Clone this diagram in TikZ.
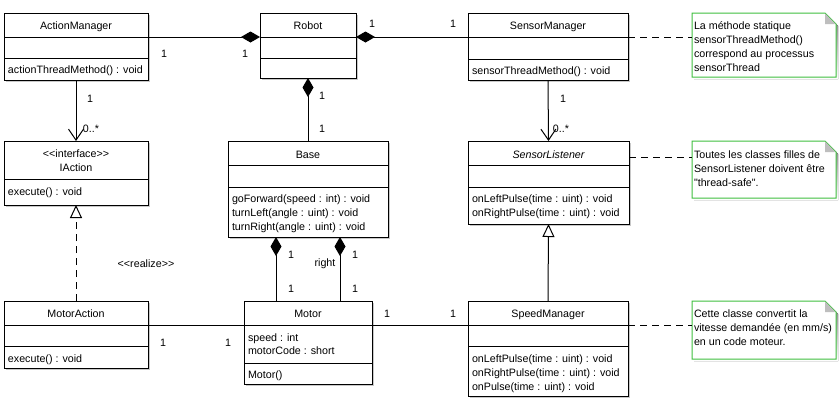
\documentclass[tikz,border=0pt]{standalone}
\usepackage{fontspec}
\newfontfamily\ui{Liberation Sans}
\usetikzlibrary{arrows.meta,shadows}
\definecolor{notegreen}{RGB}{64,192,64}
\definecolor{shade}{RGB}{200,200,200}
\definecolor{fold}{RGB}{190,190,190}
\begin{document}
\begin{tikzpicture}[x=1pt,y=-1pt,
  every node/.style={inner sep=0pt, outer sep=0pt},
  txt/.style={font=\ui\fontsize{10.7}{12}\selectfont, anchor=base west},
  ctxt/.style={txt, anchor=base},
  cls/.style={draw, fill=white, line width=1pt, anchor=north west,
    general shadow={fill=shade, shadow xshift=2pt, shadow yshift=-2pt}},
  notebox/.style={anchor=north west},
  sep/.style={line width=1pt},
  link/.style={line width=1pt},
  comp/.style={link, -{Diamond[length=19pt,width=11pt,fill=black]}},
  nav/.style={link, -{Straight Barb[length=11pt,width=15pt]}},
  inherit/.style={link, -{Triangle[open,length=13pt,width=12pt,fill=white]}},
  realize/.style={inherit, dash pattern=on 7pt off 5pt},
  anchorline/.style={line width=1pt, dash pattern=on 7pt off 5pt},
  noteline/.style={notegreen, line width=1pt, fill=white},
]
\fill[white] (0,0) rectangle (840,400);
\useasboundingbox (0,0) rectangle (840,400);

% ---------- classes ----------
\node[cls, minimum width=144pt, minimum height=67pt] (am) at (4,13) {};
\node[cls, minimum width=96pt, minimum height=65pt] (robot) at (260,13) {};
\node[cls, minimum width=160pt, minimum height=67pt] (sm) at (468,13) {};
\node[cls, minimum width=144pt, minimum height=64pt] (ia) at (4,141) {};
\node[cls, minimum width=160pt, minimum height=96pt] (base) at (228,141) {};
\node[cls, minimum width=161pt, minimum height=83pt] (sl) at (468,141) {};
\node[cls, minimum width=144pt, minimum height=67pt] (ma) at (4,301) {};
\node[cls, minimum width=128pt, minimum height=83pt] (motor) at (244,301) {};
\node[cls, minimum width=160pt, minimum height=95pt] (spm) at (468,301) {};

% compartment separators
\foreach \c/\a/\b in {am/24/45, robot/24/45, sm/24/46, base/24/46, sl/24/46, ma/24/45, motor/24/62, spm/24/45}{
  \draw[sep] ([yshift=-\a pt]\c.north west) -- ([yshift=-\a pt]\c.north east);
  \draw[sep] ([yshift=-\b pt]\c.north west) -- ([yshift=-\b pt]\c.north east);
}
\draw[sep] ([yshift=-38pt]ia.north west) -- ([yshift=-38pt]ia.north east);

% class texts
\node[ctxt] (am-name) at (76,29) {ActionManager};
\node[txt] (am-op) at (8,73.5) {actionThreadMethod() : void};
\node[ctxt] (robot-name) at (308,29) {Robot};
\node[ctxt] (sm-name) at (548,29) {SensorManager};
\node[txt] (sm-op) at (472,74) {sensorThreadMethod() : void};
\node[ctxt] (ia-st) at (76,157) {<<interface>>};
\node[ctxt] (ia-name) at (76,171) {IAction};
\node[txt] (ia-op) at (8,195) {execute() : void};
\node[ctxt] (base-name) at (308,158) {Base};
\node[txt] (base-op1) at (232,202) {goForward(speed : int) : void};
\node[txt] (base-op2) at (232,216) {turnLeft(angle : uint) : void};
\node[txt] (base-op3) at (232,230) {turnRight(angle : uint) : void};
\node[ctxt] (sl-name) at (548.5,158) {\itshape SensorListener};
\node[txt] (sl-op1) at (472,202) {onLeftPulse(time : uint) : void};
\node[txt] (sl-op2) at (472,216) {onRightPulse(time : uint) : void};
\node[ctxt] (ma-name) at (76,317) {MotorAction};
\node[txt] (ma-op) at (8,362) {execute() : void};
\node[ctxt] (motor-name) at (308,317) {Motor};
\node[txt] (motor-a1) at (248,341) {speed : int};
\node[txt] (motor-a2) at (248,354) {motorCode : short};
\node[txt] (motor-op) at (248,378) {Motor()};
\node[ctxt] (spm-name) at (548,317) {SpeedManager};
\node[txt] (spm-op1) at (472,362) {onLeftPulse(time : uint) : void};
\node[txt] (spm-op2) at (472,376) {onRightPulse(time : uint) : void};
\node[txt] (spm-op3) at (472,390) {onPulse(time : uint) : void};

% ---------- notes ----------
\node[notebox, minimum width=144pt, minimum height=64pt] (n1) at (692,13) {};
\node[notebox, minimum width=144pt, minimum height=57pt] (n2) at (692,141) {};
\node[notebox, minimum width=144pt, minimum height=58pt] (n3) at (692,301) {};
\foreach \n in {n1,n2,n3}{
  \fill[shade] ([shift={(2pt,-2pt)}]\n.north west) -- ([shift={(-9pt,-2pt)}]\n.north east)
    -- ([shift={(2pt,-13pt)}]\n.north east) -- ([shift={(2pt,-2pt)}]\n.south east)
    -- ([shift={(2pt,-2pt)}]\n.south west) -- cycle;
  \draw[noteline] (\n.north west) -- ([xshift=-11pt]\n.north east)
    -- ([yshift=-11pt]\n.north east) -- (\n.south east) -- (\n.south west) -- cycle;
  \fill[fold] ([xshift=-11pt,yshift=-0.5pt]\n.north east) -- ([xshift=-0.5pt,yshift=-11pt]\n.north east)
    -- ([xshift=-11pt,yshift=-11pt]\n.north east) -- cycle;
}
\node[txt] (n1-l1) at (694,29) {La méthode statique};
\node[txt] (n1-l2) at (694,43.3) {sensorThreadMethod()};
\node[txt] (n1-l3) at (694,57.6) {correspond au processus};
\node[txt] (n1-l4) at (694,71.9) {sensorThread};
\node[txt] (n2-l1) at (694,158) {Toutes les classes filles de};
\node[txt] (n2-l2) at (694,172) {SensorListener doivent être};
\node[txt] (n2-l3) at (694,186) {"thread-safe".};
\node[txt] (n3-l1) at (694,317) {Cette classe convertit la};
\node[txt] (n3-l2) at (694,331) {vitesse demandée (en mm/s)};
\node[txt] (n3-l3) at (694,345) {en un code moteur.};

% ---------- connectors ----------
\draw[comp] ([yshift=-24pt]am.north east) -- ([yshift=-24pt]robot.north west);
\draw[comp] ([yshift=-24pt]sm.north west) -- ([yshift=-24pt]robot.north east);
\draw[comp] (base.north) -- (robot.south);
\draw[comp] ([xshift=32pt]motor.north west) -- ([xshift=48pt]base.south west);
\draw[comp] ([xshift=-32pt]motor.north east) -- ([xshift=-48pt]base.south east);
\draw[nav] (am.south) -- (ia.north);
\draw[nav] (sm.south) -- (sl.north);
\draw[realize] (ma.north) -- (ia.south);
\draw[inherit] (spm.north) -- (sl.south);
\draw[link] ([yshift=-24pt]ma.north east) -- ([yshift=-24pt]motor.north west);
\draw[link] ([yshift=-24pt]motor.north east) -- ([yshift=-24pt]spm.north west);
\draw[anchorline] ([yshift=-24pt]sm.north east) -- ([yshift=-24pt]n1.north west);
\draw[anchorline] ([yshift=-16pt]sl.north east) -- ([yshift=-16pt]n2.north west);
\draw[anchorline] ([yshift=-24pt]spm.north east) -- ([yshift=-24pt]n3.north west);

% ---------- multiplicities and roles ----------
\node[ctxt] (m-am1) at (164,57) {1};
\node[ctxt] (m-am2) at (245,57) {1};
\node[ctxt] (m-sm1) at (372,27) {1};
\node[ctxt] (m-sm2) at (453,27) {1};
\node[ctxt] (m-b1) at (322,99) {1};
\node[ctxt] (m-b2) at (322,132) {1};
\node[ctxt] (m-ia1) at (90,102) {1};
\node[ctxt] (m-ia2) at (91,132) {0..*};
\node[ctxt] (m-sl1) at (563,102) {1};
\node[ctxt] (m-sl2) at (561,132) {0..*};
\node[ctxt] (st-realize) at (146,267) {<<realize>>};
\node[ctxt] (m-ml1) at (291,258) {1};
\node[ctxt] (m-mr1) at (355,258) {1};
\node[ctxt] (role-right) at (325,266.5) {right};
\node[ctxt] (m-ml2) at (291,292) {1};
\node[ctxt] (m-mr2) at (355,292) {1};
\node[ctxt] (m-ma1) at (163,346) {1};
\node[ctxt] (m-ma2) at (228,346) {1};
\node[ctxt] (m-sp1) at (387,317) {1};
\node[ctxt] (m-sp2) at (453,317) {1};
\end{tikzpicture}
\end{document}
